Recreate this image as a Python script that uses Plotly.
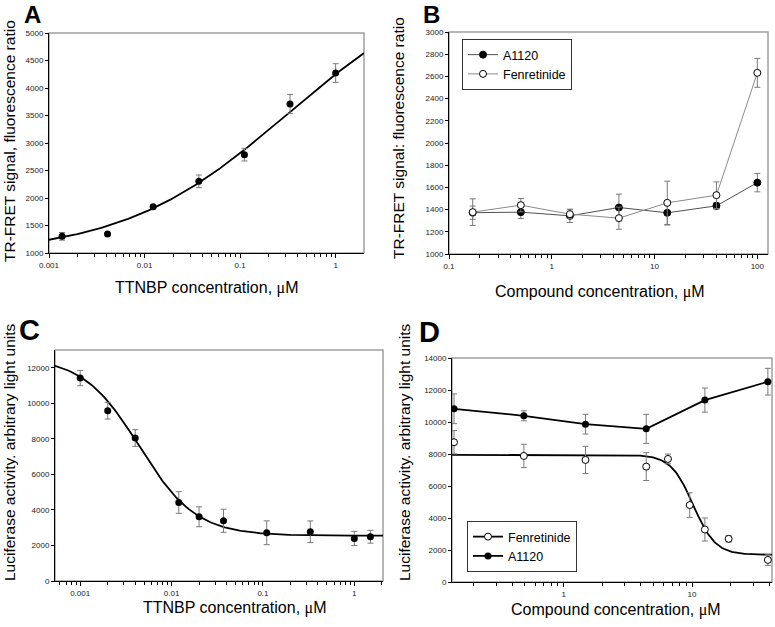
import numpy as np
import plotly.graph_objects as go

W, H = 775, 627

# ---------------- data ----------------
# Panel A: TTNBP TR-FRET
a_x = [0.00137, 0.0041, 0.0123, 0.037, 0.111, 0.333, 1.0]
a_y = [1303, 1345, 1842, 2303, 2788, 3709, 4272]
a_err = [70, 20, 25, 115, 115, 175, 170]
a_fit = dict(bottom=967, top=6100, ec50=0.316, hill=0.5)

# Panel B: compounds TR-FRET
b_x = [0.17, 0.5, 1.5, 4.5, 13.3, 40, 100]
b_a1120 = [1372, 1377, 1344, 1419, 1371, 1434, 1643]
b_a1120_err = [60, 57, 60, 120, 110, 30, 83]
b_fen = [1377, 1440, 1359, 1323, 1461, 1530, 2632]
b_fen_err = [120, 60, 40, 100, 195, 120, 130]

# Panel C: TTNBP luciferase
c_x = [0.001, 0.002, 0.004, 0.012, 0.02, 0.037, 0.11, 0.33, 1.0, 1.5]
c_y = [11420, 9585, 8050, 4418, 3613, 3390, 2714, 2770, 2396, 2490]
c_err = [430, 470, 470, 610, 560, 650, 670, 610, 400, 360]
c_fit = dict(bottom=2550, top=12600, ic50=0.00444, hill=1.4)

# Panel D: compounds luciferase
d_x_a1120 = [0.14, 0.49, 1.48, 4.4, 12.6, 39]
d_a1120 = [10826, 10387, 9865, 9572, 11370, 12519]
d_a1120_err = [930, 313, 616, 909, 752, 836]
d_x_fen = [0.14, 0.49, 1.48, 4.4, 6.5, 9.6, 12.6, 19.3, 39]
d_fen = [8736, 7879, 7629, 7211, 7691, 4807, 3281, 2696, 1379]
d_fen_err = [730, 730, 850, 870, 300, 770, 720, 200, 350]
d_fit = dict(bottom=1700, top=7950, ic50=10.2, hill=5.0)

# axis ranges (data units)
a_xrange = (0.001, 1.98)
b_xrange = (0.1, 127)
c_xrange = (0.00053, 2.06)
d_xrange = (0.135, 42)

FONT = "Arial, Liberation Sans, sans-serif"
ERRC = "#7a7a7a"


def px_dom(x0, x1, y0, y1):
    return [x0 / W, x1 / W], [1 - y1 / H, 1 - y0 / H]


dom = {
    "A": px_dom(49, 364, 33, 253),
    "B": px_dom(449, 768, 32, 254),
    "C": px_dom(55, 383, 350, 581),
    "D": px_dom(452, 772, 358, 582),
}

fig = go.Figure()


def up4pl(x, p):
    x = np.asarray(x)
    return p["bottom"] + (p["top"] - p["bottom"]) / (1 + (p["ec50"] / x) ** p["hill"])


def down4pl(x, p):
    x = np.asarray(x)
    return p["bottom"] + (p["top"] - p["bottom"]) / (1 + (x / p["ic50"]) ** p["hill"])


def eb(v, w=3):
    return dict(type="data", array=v, visible=True, color=ERRC, thickness=1, width=w)


# Panel A
xa = np.logspace(np.log10(a_xrange[0]), np.log10(a_xrange[1]), 200)
fig.add_trace(go.Scatter(x=xa, y=up4pl(xa, a_fit), mode="lines", line=dict(color="black", width=1.8),
                         xaxis="x", yaxis="y", showlegend=False, hoverinfo="skip"))
fig.add_trace(go.Scatter(x=a_x, y=a_y, mode="markers", error_y=eb(a_err),
                         marker=dict(color="black", size=7), xaxis="x", yaxis="y", showlegend=False))

# Panel B
fig.add_trace(go.Scatter(x=b_x, y=b_a1120, mode="lines+markers", name="A1120", error_y=eb(b_a1120_err),
                         line=dict(color="#505050", width=1),
                         marker=dict(color="black", size=7, line=dict(color="black", width=1)),
                         xaxis="x2", yaxis="y2", legend="legend"))
fig.add_trace(go.Scatter(x=b_x, y=b_fen, mode="lines+markers", name="Fenretinide", error_y=eb(b_fen_err),
                         line=dict(color="#8a8a8a", width=1),
                         marker=dict(color="white", size=7, line=dict(color="black", width=1)),
                         xaxis="x2", yaxis="y2", legend="legend"))

# Panel C
xc = np.logspace(np.log10(c_xrange[0]), np.log10(c_xrange[1]), 200)
fig.add_trace(go.Scatter(x=xc, y=down4pl(xc, c_fit), mode="lines", line=dict(color="black", width=1.8),
                         xaxis="x3", yaxis="y3", showlegend=False, hoverinfo="skip"))
fig.add_trace(go.Scatter(x=c_x, y=c_y, mode="markers", error_y=eb(c_err),
                         marker=dict(color="black", size=7), xaxis="x3", yaxis="y3", showlegend=False))

# Panel D
xd = np.logspace(np.log10(d_xrange[0]), np.log10(d_xrange[1]), 200)
fig.add_trace(go.Scatter(x=xd, y=down4pl(xd, d_fit), mode="lines", line=dict(color="black", width=1.8),
                         xaxis="x4", yaxis="y4", showlegend=False, hoverinfo="skip"))
fig.add_trace(go.Scatter(x=d_x_fen, y=d_fen, mode="markers", error_y=eb(d_fen_err),
                         marker=dict(color="white", size=7, line=dict(color="black", width=1)),
                         xaxis="x4", yaxis="y4", showlegend=False))
fig.add_trace(go.Scatter(x=[None], y=[None], mode="lines+markers", name="Fenretinide",
                         line=dict(color="black", width=1.8),
                         marker=dict(color="white", size=7, line=dict(color="black", width=1)),
                         xaxis="x4", yaxis="y4", legend="legend2"))
fig.add_trace(go.Scatter(x=d_x_a1120, y=d_a1120, mode="lines+markers", name="A1120", error_y=eb(d_a1120_err),
                         line=dict(color="black", width=1.8),
                         marker=dict(color="black", size=7), xaxis="x4", yaxis="y4", legend="legend2"))


def minor_vals(lo, hi):
    out = []
    for d in range(int(np.floor(np.log10(lo))), int(np.ceil(np.log10(hi))) + 1):
        for m in range(2, 10):
            v = m * 10.0 ** d
            if lo <= v <= hi:
                out.append(v)
    return out


def xaxis(domain, rng, majors, anchor):
    return dict(domain=domain, type="log", range=[np.log10(rng[0]), np.log10(rng[1])],
                tickvals=majors, ticktext=[("%g" % v) for v in majors], automargin=False,
                ticks="outside", ticklen=4, tickcolor="black", tickwidth=1,
                minor=dict(tickvals=minor_vals(*rng), ticks="outside", ticklen=2.5, tickcolor="black", tickwidth=1),
                showline=True, linecolor="black", linewidth=1, showgrid=False, zeroline=False,
                tickfont=dict(family=FONT, size=8, color="#222"), anchor=anchor)


def yaxis(domain, rng, dtick, anchor):
    return dict(domain=domain, range=list(rng), tick0=0, dtick=dtick, ticks="outside", ticklen=3,
                tickformat="d", automargin=False,
                tickcolor="black", showline=True, linecolor="black", linewidth=1, showgrid=False,
                zeroline=False, tickfont=dict(family=FONT, size=8, color="#222"), anchor=anchor)


fig.update_layout(
    width=W, height=H, margin=dict(l=0, r=0, t=0, b=0, autoexpand=False),
    paper_bgcolor="white", plot_bgcolor="white",
    xaxis=xaxis(dom["A"][0], a_xrange, [0.001, 0.01, 0.1, 1], "y"),
    yaxis=yaxis(dom["A"][1], (1000, 5000), 500, "x"),
    xaxis2=xaxis(dom["B"][0], b_xrange, [0.1, 1, 10, 100], "y2"),
    yaxis2=yaxis(dom["B"][1], (1000, 3000), 200, "x2"),
    xaxis3=xaxis(dom["C"][0], c_xrange, [0.001, 0.01, 0.1, 1], "y3"),
    yaxis3=yaxis(dom["C"][1], (0, 13000), 2000, "x3"),
    xaxis4=xaxis(dom["D"][0], d_xrange, [1, 10], "y4"),
    yaxis4=yaxis(dom["D"][1], (0, 14000), 2000, "x4"),
    legend=dict(x=462 / W, y=1 - 39 / H, xanchor="left", yanchor="top", bgcolor="white",
                bordercolor="#333", borderwidth=1, font=dict(family=FONT, size=12.5, color="black"),
                tracegroupgap=0, itemwidth=30),
    legend2=dict(x=467 / W, y=1 - 521 / H, xanchor="left", yanchor="top", bgcolor="white",
                 bordercolor="#333", borderwidth=1, font=dict(family=FONT, size=12.5, color="black"),
                 tracegroupgap=0, itemwidth=30),
)

# gray frame (top/right borders)
shapes = []
for xr, yr in [("x", "y"), ("x2", "y2"), ("x3", "y3"), ("x4", "y4")]:
    shapes.append(dict(type="rect", xref=xr + " domain", yref=yr + " domain", x0=0, x1=1, y0=0, y1=1,
                       line=dict(color="#a0a0a0", width=1.5), layer="below"))
fig.update_layout(shapes=shapes)

MU = '<span style="font-family:Liberation Serif, serif">μ</span>'


def ann(text, x, y, size, angle=0, bold=False, yanchor="middle"):
    fig.add_annotation(text=("<b>%s</b>" % text) if bold else text, xref="paper", yref="paper",
                       x=x / W, y=1 - y / H, xanchor="center", yanchor=yanchor, showarrow=False,
                       textangle=angle, borderpad=0,
                       font=dict(family=FONT, size=size, color="black"))


# panel letters
ann("A", 32, 0, 24, bold=True, yanchor="top")
ann("B", 432, 0, 24, bold=True, yanchor="top")
ann("C", 29, 330, 29, bold=True)
ann("D", 429, 332, 29, bold=True)

# axis titles
ann("TTNBP concentration, " + MU + "M", 206, 288, 16)
ann("Compound concentration, " + MU + "M", 600, 292, 16)
ann("TTNBP concentration, " + MU + "M", 234, 608, 16)
ann("Compound concentration, " + MU + "M", 616, 610, 16)
ann("TR-FRET signal, fluorescence ratio", 10, 141, 15.5, angle=-90)
ann("TR-FRET signal: fluorescence ratio", 398, 138, 15.5, angle=-90)
ann("Luciferase activity. arbitrary light units", 10, 452, 15.5, angle=-90)
ann("Luciferase activity. arbitrary light units", 405, 452, 15.5, angle=-90)

fig.write_html("out.html", config={"displayModeBar": False},
               post_script="document.body.style.margin='0';document.body.style.overflow='hidden';")
